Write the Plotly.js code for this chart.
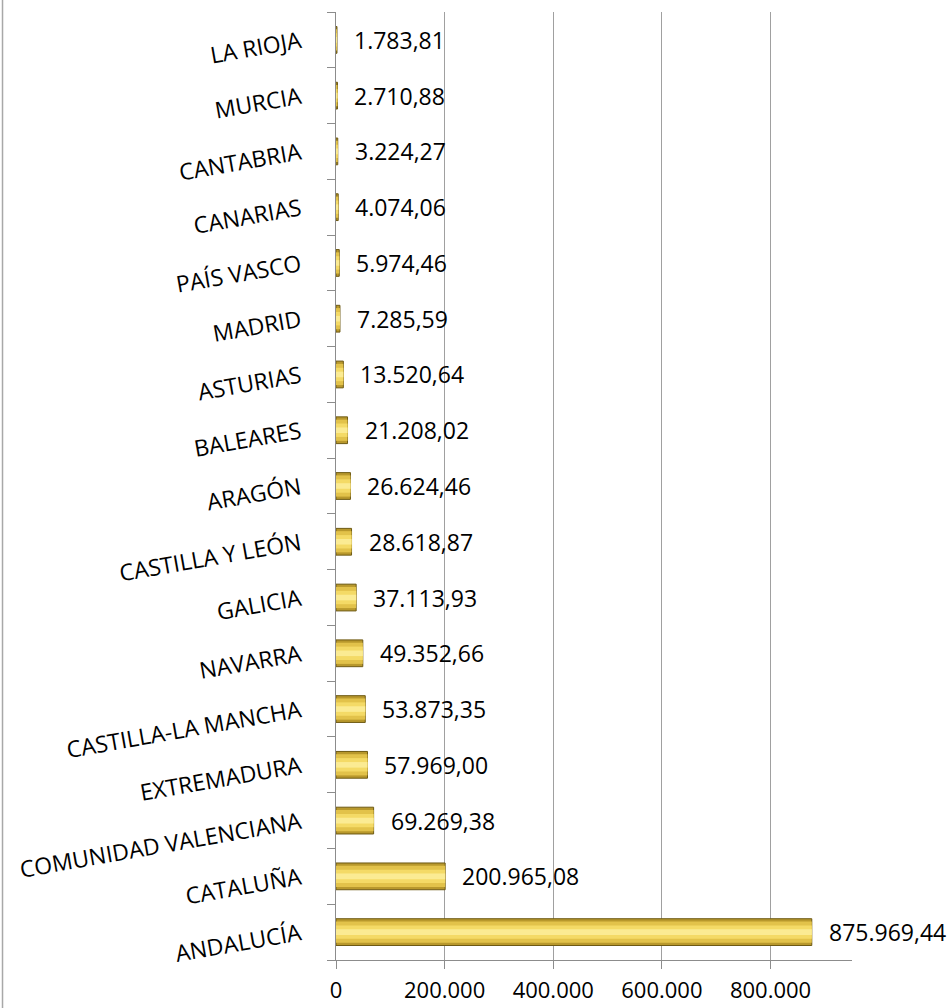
<!DOCTYPE html>
<html>
<head>
<meta charset="utf-8">
<script src="https://cdn.plot.ly/plotly-3.0.1.min.js"></script>
<style>
  html, body { margin: 0; padding: 0; background: #ffffff; }
  #chart { width: 952px; height: 1008px; }
</style>
</head>
<body>
<div id="chart"></div>
<script>
// Categories (bottom to top)
const regions = [
  "ANDALUCÍA", "CATALUÑA", "COMUNIDAD VALENCIANA", "EXTREMADURA",
  "CASTILLA-LA MANCHA", "NAVARRA", "GALICIA", "CASTILLA Y LEÓN",
  "ARAGÓN", "BALEARES", "ASTURIAS", "MADRID", "PAÍS VASCO",
  "CANARIAS", "CANTABRIA", "MURCIA", "LA RIOJA"
];
// Values
const values = [
  875969.44, 200965.08, 69269.38, 57969.00,
  53873.35, 49352.66, 37113.93, 28618.87,
  26624.46, 21208.02, 13520.64, 7285.59, 5974.46,
  4074.06, 3224.27, 2710.88, 1783.81
];
// X axis ticks
const xTickVals = [0, 200000, 400000, 600000, 800000];
const xTickText = ["0", "200.000", "400.000", "600.000", "800.000"];

function fmt(v) {
  const parts = v.toFixed(2).split(".");
  return parts[0].replace(/\B(?=(\d{3})+(?!\d))/g, ".") + "," + parts[1];
}

const FONT = "Open Sans, DejaVu Sans, sans-serif";

function barLayer(width, color, line) {
  return {
    type: "bar",
    orientation: "h",
    x: values,
    y: regions,
    width: width,
    marker: { color: color, line: line || { width: 0 } },
    hoverinfo: "skip",
    showlegend: false
  };
}

const data = [
  barLayer(0.48, "#b8982c", { color: "#6e5a14", width: 1 }),
  barLayer(0.38, "#e2c24a"),
  barLayer(0.24, "#f4da66"),
  barLayer(0.10, "#fbeb93")
];

const annotations = values.map((v, i) => ({
  x: v,
  y: regions[i],
  xref: "x",
  yref: "y",
  text: fmt(v),
  showarrow: false,
  xanchor: "left",
  yanchor: "middle",
  xshift: 15,
  font: { family: FONT, size: 23, color: "#000000" }
}));

const layout = {
  width: 952,
  height: 1008,
  margin: { l: 336, r: 100, t: 12, b: 48, pad: 0 },
  paper_bgcolor: "#ffffff",
  plot_bgcolor: "#ffffff",
  barmode: "overlay",
  font: { family: FONT, size: 23, color: "#000000" },
  xaxis: {
    range: [0, 950000],
    tickvals: xTickVals,
    ticktext: xTickText,
    showgrid: true,
    gridcolor: "#a0a0a0",
    gridwidth: 1,
    zeroline: false,
    showline: true,
    linecolor: "#8c8c8c",
    linewidth: 1,
    ticks: "outside",
    ticklen: 8,
    tickcolor: "#8c8c8c",
    ticklabelstandoff: 3,
    tickfont: { family: FONT, size: 22, color: "#000000" },
    fixedrange: true
  },
  yaxis: {
    type: "category",
    categoryorder: "array",
    categoryarray: regions,
    showgrid: false,
    zeroline: false,
    showline: true,
    linecolor: "#8c8c8c",
    linewidth: 1,
    ticks: "outside",
    tickson: "boundaries",
    ticklen: 8,
    tickcolor: "#8c8c8c",
    tickangle: -10,
    ticklabelstandoff: 30,
    tickfont: { family: FONT, size: 23, color: "#000000" },
    fixedrange: true
  },
  annotations: annotations,
  shapes: [{
    type: "line",
    xref: "paper", yref: "paper",
    x0: -0.6463, x1: -0.6463,
    y0: -0.06, y1: 1.02,
    line: { color: "#a8a8a8", width: 1.5 }
  }]
};

Plotly.newPlot("chart", data, layout, { displayModeBar: false, staticPlot: true });
</script>
</body>
</html>
